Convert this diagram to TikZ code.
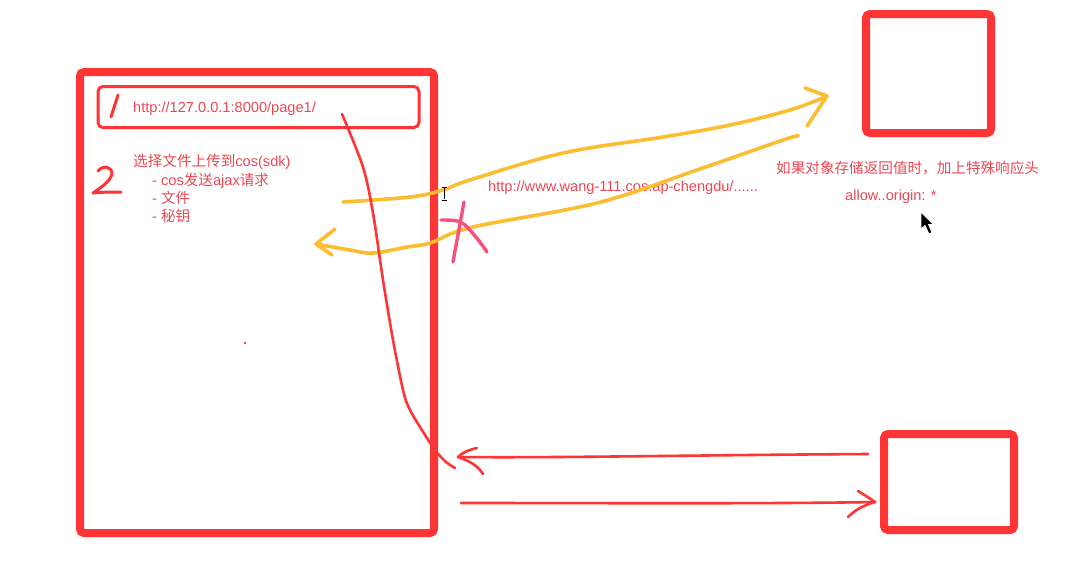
\documentclass[tikz,border=0pt]{standalone}
\usepackage{fontspec}
\setmainfont{Liberation Sans}
\newfontfamily\cjk{Noto Sans CJK SC}
\definecolor{boxred}{RGB}{255,52,52}
\definecolor{txtred}{RGB}{236,72,82}
\definecolor{ylw}{RGB}{251,190,48}
\definecolor{pnk}{RGB}{244,82,124}
\begin{document}
\begin{tikzpicture}[x=1pt,y=-1pt,
  thickbox/.style={draw=boxred,line width=8pt,rounded corners=4pt,inner sep=0pt,fill=none},
  urlbox/.style={draw=boxred,line width=3pt,rounded corners=5pt,inner sep=0pt},
  lbl/.style={text=txtred,font=\fontsize{14.6}{17}\selectfont,anchor=base west,inner sep=0pt},
  yline/.style={draw=ylw,line width=3.6pt,line cap=round,line join=round},
  rline/.style={draw=boxred,line width=2.6pt,line cap=round,line join=round},
  pline/.style={draw=pnk,line width=3.4pt,line cap=round,line join=round}]
\useasboundingbox[fill=white] (0,0) rectangle (1085,566);
% boxes
\node[thickbox,minimum width=354pt,minimum height=461pt] (page) at (257,302.5) {};
\node[urlbox,minimum width=321pt,minimum height=41pt] (url) at (258.5,107) {};
\node[thickbox,minimum width=125pt,minimum height=119pt] (cos) at (928.5,73.5) {};
\node[thickbox,minimum width=130pt,minimum height=96pt] (srv) at (949,482) {};
% handwritten numbers
\draw[rline,line width=3pt] (118,95) -- (111,117);
\draw[rline,line width=3pt] (98,171) .. controls (103,165) and (112,166) .. (112,174)
  .. controls (110,182) and (100,188) .. (93,193) .. controls (103,192) and (112,192) .. (121,192);
% texts
\node[lbl] (t1) at (133,112) {http://127.0.0.1:8000/page1/};
\node[lbl] (t2) at (133,166.5) {{\cjk 选择文件上传到}cos(sdk)};
\node[lbl] (t3) at (152,185.5) {- cos{\cjk 发送}ajax{\cjk 请求}};
\node[lbl] (t4) at (152,203.5) {- {\cjk 文件}};
\node[lbl] (t5) at (152,221.5) {- {\cjk 秘钥}};
\node[lbl] (t6) at (488,191) {http://www.wang-111.cos.ap-chengdu/......};
\node[lbl] (t7) at (776,173.5) {{\cjk 如果对象存储返回值时，加上特殊响应头}};
\node[lbl] (t8) at (845,200.5) {allow..origin: *};
% small dot
\fill[boxred] (245,343) circle (1.3pt);
% coordinates for connectors
\coordinate (ya) at (343,202);
\coordinate (yb) at (825,97);
\coordinate (yc) at (798,136);
\coordinate (yd) at (316,244);
\coordinate (ra) at (342,114);
\coordinate (rb) at (455,468);
\coordinate (sa) at (868,454);
\coordinate (sb) at (458,457);
\coordinate (sc) at (461,503);
\coordinate (sd) at (875,502);
% yellow request to cos
\draw[yline] plot[smooth,tension=0.6] coordinates {(ya) (410,197) (443,190) (470,180) (563,153) (663,137) (730,125) (790,110) (yb)};
\draw[yline] (805,88) -- (827,96) -- (807,126);
% yellow response back
\draw[yline] plot[smooth,tension=0.6] coordinates {(yc) (783,140) (697,170) (597,203) (473,227) (430,243) (407,247) (373,253) (350,250) (yd)};
\draw[yline] (335,229) -- (yd) -- (332,255);
% pink cross
\draw[pline] (464,202) -- (453,262);
\draw[pline] (441,220) .. controls (452,220) and (460,220) .. (465,225) .. controls (474,234) and (481,243) .. (487,252);
% red long curve
\draw[rline] plot[smooth,tension=0.5] coordinates {(ra) (363,167) (373,213) (383,280) (393,340) (403,390) (409,408) (420,427) (435,450) (446,462) (rb)};
% red arrows to and from server
\draw[rline] (sa) .. controls (700,455) and (560,458) .. (sb);
\draw[rline] (477,448) .. controls (468,450) and (462,453) .. (sb) .. controls (470,461) and (478,466) .. (483,474);
\draw[rline] (sc) .. controls (600,503) and (760,504) .. (sd);
\draw[rline] (858,491) .. controls (866,496) and (871,499) .. (sd) .. controls (864,505) and (855,510) .. (848,517);
% text cursor (I-beam)
\draw[black,line width=0.9pt] (444,188) -- (444,199) (441.5,187) -- (446.5,187) (441.5,200) -- (446.5,200);
% mouse pointer
\filldraw[fill=black,draw=white,line width=0.8pt] (921,212) -- (921,229) -- (925,225.5) -- (929,234) -- (932,232.5) -- (928.5,224.5) -- (933.5,224.5) -- cycle;
\end{tikzpicture}
\end{document}
